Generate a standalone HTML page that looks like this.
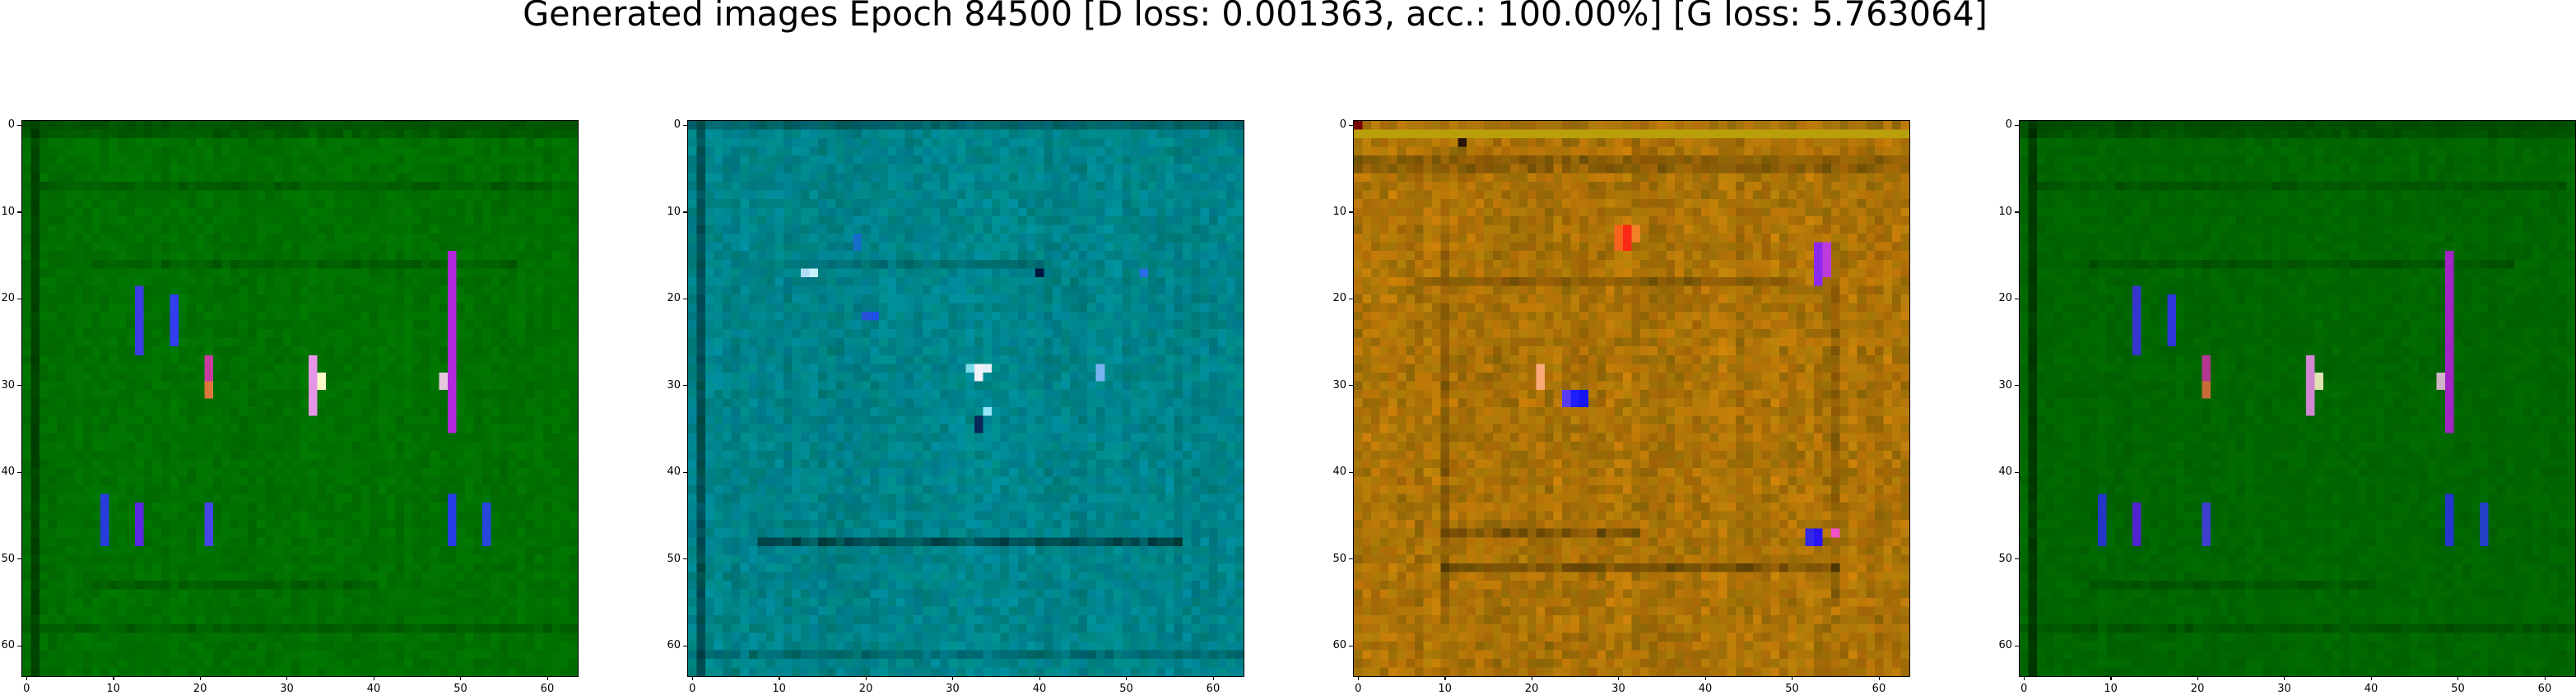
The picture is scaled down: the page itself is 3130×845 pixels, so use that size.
<!DOCTYPE html>
<html><head><meta charset="utf-8">
<style>
html,body{margin:0;padding:0;background:#fff;}
body{width:3130px;height:845px;position:relative;overflow:hidden;font-family:"DejaVu Sans","Liberation Sans",sans-serif;}
#title{position:absolute;left:-40px;width:3130px;top:-7px;text-align:center;font-size:41.4px;color:#000;white-space:nowrap;}
.panel{position:absolute;top:147px;width:675px;height:675px;}
.panel canvas{position:absolute;left:0;top:0;width:675px;height:675px;image-rendering:pixelated;}
.frame{position:absolute;left:-1px;top:-1px;width:675px;height:675px;border:1.5px solid #000;}
.tk{position:absolute;background:#000;}
.lb{position:absolute;font-size:13px;color:#000;white-space:nowrap;}
</style></head>
<body>
<div id="title">Generated images Epoch 84500 [D loss: 0.001363, acc.: 100.00%] [G loss: 5.763064]</div>
<div id="panels"></div>
<script>
const panelLefts=[27,836,1645,2454];
const tickValues=[0,10,20,30,40,50,60];
const panelNames=['image-panel-1','image-panel-2','image-panel-3','image-panel-4'];
const baseColors=[[0,112,0],[0,132,138],[172,115,8],[0,102,0]];
const noiseAmp=[16,20,26,14];
// features: [col,row0,row1,r,g,b]
const feats1=[[13,19,26,60,60,230],[17,20,25,50,60,240],[21,27,31,200,60,160],[33,27,33,230,150,230],[34,29,30,250,250,200],[49,15,35,180,40,220],[48,29,30,230,200,220],[9,43,48,40,60,220],[13,44,48,90,40,230],[21,44,48,70,70,230],[49,43,48,40,60,230],[53,44,48,40,70,220],[21,30,31,220,120,60]];
const feats2=[[13,17,17,180,220,250],[14,17,17,200,240,250],[33,28,29,240,240,250],[34,28,28,230,240,250],[32,28,28,120,220,230],[19,13,14,20,110,200],[40,17,17,0,20,60],[34,33,33,150,230,250],[33,34,35,10,40,90],[52,17,17,40,110,230],[47,28,29,120,180,240],[20,22,22,40,80,220],[21,22,22,30,80,230]];
const feats3=[[31,12,14,250,40,20],[30,12,14,245,100,30],[32,12,13,240,130,40],[25,31,32,30,30,250],[26,31,32,20,20,240],[24,31,32,90,60,240],[53,14,18,140,40,240],[54,14,17,190,60,220],[53,47,48,40,20,240],[52,47,48,50,40,230],[55,47,47,240,80,200],[21,28,30,250,170,120],[12,2,2,40,20,10],[0,0,0,120,0,0]];
const feats4=feats1.map(f=>[f[0],f[1],f[2],Math.round(f[3]*0.9),Math.round(f[4]*0.9),Math.round(f[5]*0.9)]);
const allFeats=[feats1,feats2,feats3,feats4];
// dark grid lines: [type 'r'/'c', index, from, to, darkness]
const lines1=[['r',1,0,63,0.4],['c',1,0,63,0.5],['r',7,2,62,0.35],['r',53,8,40,0.35],['r',58,0,63,0.35],['r',16,8,56,0.35]];
const lines2=[['r',16,12,40,0.35],['r',48,8,56,0.9],['c',1,0,63,0.4],['r',61,0,63,0.4]];
const lines3=[['r',47,10,32,0.6],['r',51,10,55,0.6],['r',4,0,63,0.4],['r',5,0,63,0.4],['c',10,14,55,0.35],['c',55,14,55,0.35],['r',18,8,50,0.4]];
const lines4=lines1;
const allLines=[lines1,lines2,lines3,lines4];
function h(a,b,c){let x=(a*374761393+b*668265263+c*2147483647)|0;x=(x^(x>>>13))*1274126177|0;x=x^(x>>>16);return ((x>>>0)%10000)/10000;}
const root=document.getElementById('panels');
panelLefts.forEach((L,p)=>{
  const d=document.createElement('div');
  d.className='panel';
  d.style.left=L+'px';
  
  
  const cv=document.createElement('canvas');cv.width=64;cv.height=64;
  
  
  const ctx=cv.getContext('2d');const img=ctx.createImageData(64,64);
  const base=baseColors[p],amp=noiseAmp[p];
  const grid=[];
  for(let r=0;r<64;r++){grid[r]=[];for(let c=0;c<64;c++){
    const n=(h(r,c,p)-0.5)*2*amp, cn=(h(c,p,7)-0.5)*amp*0.8, n2=(h(c,r,p+11)-0.5)*2*amp;
    let f=1+(n+cn)/220;
    if(p!==2 && (c===1||r===0)) f*=0.75;
    grid[r][c]=[base[0]*f+(p===2?n2*0.5:0),base[1]*f,base[2]*f+(p===1?n2*0.6:0)];
  }}
  allLines[p].forEach(l=>{for(let i=l[2];i<=l[3];i++){const r=l[0]==='r'?l[1]:i,c=l[0]==='r'?i:l[1];grid[r][c]=grid[r][c].map(v=>v*(1-0.5*l[4]*(0.6+h(r,c,9)*0.6)));}});
  if(p===2){for(let c=0;c<64;c++){grid[1][c]=[185,160,10];}}
  allFeats[p].forEach(f=>{for(let r=f[1];r<=f[2];r++){grid[r][f[0]]=[f[3],f[4],f[5]];}});
  for(let r=0;r<64;r++)for(let c=0;c<64;c++){const i=(r*64+c)*4,v=grid[r][c];img.data[i]=Math.max(0,Math.min(255,v[0]));img.data[i+1]=Math.max(0,Math.min(255,v[1]));img.data[i+2]=Math.max(0,Math.min(255,v[2]));img.data[i+3]=255;}
  ctx.putImageData(img,0,0);
  d.appendChild(cv);
  const fr=document.createElement('div');fr.className='frame';
  
  
  d.appendChild(fr);
  const px=675/64;
  tickValues.forEach(t=>{
    const pos=(t+0.5)*px;
    const tx=document.createElement('div');tx.className='tk';tx.style.cssText=`left:${pos-0.5}px;top:675px;width:1.3px;height:5px`;
    
    
    d.appendChild(tx);
    const lx=document.createElement('div');lx.className='lb';lx.textContent=t;lx.style.left=(pos-(String(t).length*4.2))+'px';lx.style.top='683px';
    
    
    d.appendChild(lx);
    const ty=document.createElement('div');ty.className='tk';ty.style.cssText=`left:-6px;top:${pos-0.5}px;width:5px;height:1.3px`;
    
    
    d.appendChild(ty);
    const ly=document.createElement('div');ly.className='lb';ly.textContent=t;ly.style.right='684px';ly.style.top=(pos-8)+'px';
    
    
    d.appendChild(ly);
  });
  root.appendChild(d);
});
</script>
</body></html>
